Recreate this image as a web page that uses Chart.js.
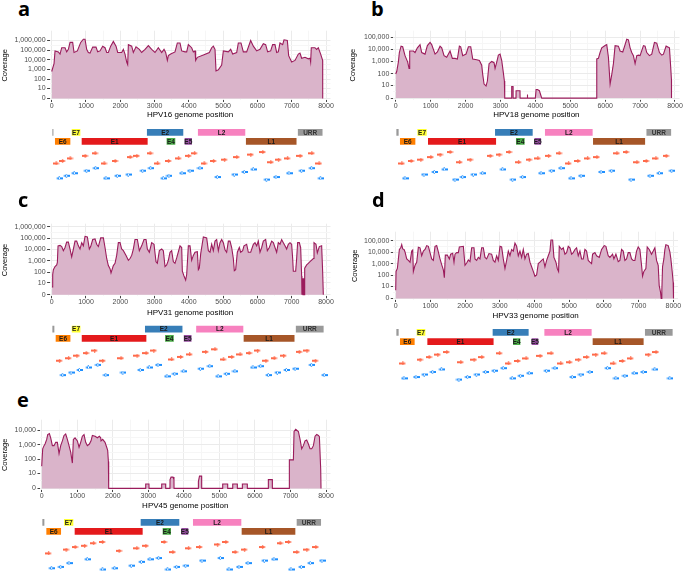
<!DOCTYPE html>
<html>
<head>
<meta charset="utf-8">
<script src="https://cdn.jsdelivr.net/npm/chart.js@4.4.0/dist/chart.umd.min.js"></script>
<style>
  html, body { margin: 0; padding: 0; background: #fff; }
  #fig { position: relative; width: 685px; height: 577px; overflow: hidden; }
  #fig canvas { position: absolute; }
  .tag { position: absolute; font: bold 20px 'Open Sans', sans-serif; line-height: 20px; color: #000; }
</style>
</head>
<body>
<div id="fig"></div>
<script>
// ---- coverage profiles (genome position, read depth) ----
const hpv16Pos = [0,68,97,194,243,292,389,437,486,535,612,651,748,846,923,972,1020,1069,1118,1196,1293,1341,1409,1487,1555,1604,1652,1720,1798,1876,1925,2041,2090,2138,2187,2216,2236,2333,2381,2459,2556,2624,2722,2819,2916,3013,3110,3208,3276,3324,3373,3402,3470,3596,3664,3742,3791,3888,3937,3985,4082,4131,4180,4199,4248,4423,4598,4666,4714,4763,4792,4860,4957,5006,5152,5220,5278,5395,5443,5521,5589,5686,5803,5881,5978,6075,6172,6240,6298,6386,6444,6512,6561,6609,6658,6736,6775,6872,6911,6998,7096,7193,7241,7290,7387,7484,7533,7552,7571,7678,7727,7776,7844,7902,7904];
const hpv16Cov = [610,4000,83000,66000,39000,178000,178000,66000,120000,630000,630000,57000,83000,630000,1350000,1350000,120000,57000,49000,205000,205000,66000,83000,257000,178000,57000,57000,257000,790000,257000,57000,57000,120000,39000,5900,3200,370000,257000,57000,220000,120000,57000,120000,300000,120000,57000,178000,57000,120000,57000,8600,27000,39000,66000,550000,550000,83000,66000,66000,370000,178000,66000,83000,8600,18000,31000,57000,178000,257000,120000,710,890,2800,83000,66000,120000,39000,57000,550000,550000,66000,66000,1000000,257000,83000,120000,470000,370000,66000,83000,370000,370000,57000,66000,550000,370000,1170000,1000000,27000,5900,8600,39000,49000,14500,18000,12600,14500,5900,178000,178000,120000,178000,39000,8600,0];

const hpv18Pos = [0,29,76,105,153,200,267,344,382,401,506,554,621,697,745,840,907,984,1031,1127,1194,1270,1318,1385,1461,1557,1623,1700,1767,1824,1862,1920,2015,2082,2149,2206,2321,2397,2464,2493,2531,2588,2626,2674,2750,2817,2846,2894,2941,2989,3037,3085,3113,3123,3320,3323,3360,3363,3445,3448,3560,3563,3765,3772,3778,4000,4021,4060,4116,4183,5750,5759,5806,5854,5902,5997,6045,6093,6141,6188,6236,6284,6379,6427,6504,6570,6618,6666,6714,6761,6809,6857,6905,6952,7000,7096,7143,7191,7268,7334,7411,7478,7554,7621,7669,7745,7841,7879,7898,7900];
const hpv18Cov = [92,150,890,5400,18000,16000,3000,890,270,7200,7200,5400,13000,24000,5400,4000,20000,36000,24000,4000,6000,18000,13000,3000,2200,7200,1800,1800,1600,18000,16000,3000,4000,16000,16000,1600,1400,1200,490,82,13,9,24,660,1000,790,270,890,3300,4000,1200,110,24,0,0,8,8,0,0,3,3,0,0,1,0,0,4,4,3,0,0,1600,1800,5400,13000,20000,24000,2200,13,82,660,20000,18000,7200,6000,24000,66000,59000,13000,5400,3000,660,3000,3300,3000,20000,18000,5400,3000,4000,36000,32000,5400,3300,4000,18000,13000,270,33,0];

const hpv31Pos = [10,29,49,97,146,165,185,243,292,340,389,437,486,535,583,632,680,729,778,826,875,923,972,1040,1098,1137,1196,1264,1312,1361,1429,1507,1555,1604,1652,1701,1730,1798,1847,1895,1944,1993,2041,2090,2168,2236,2284,2333,2381,2430,2498,2556,2624,2692,2751,2790,2848,2916,2984,3042,3081,3140,3208,3256,3305,3353,3402,3451,3499,3548,3596,3645,3742,3791,3810,3859,3907,3937,3985,4034,4082,4131,4180,4248,4277,4306,4345,4423,4520,4569,4617,4666,4714,4763,4811,4860,4909,4957,5006,5054,5103,5152,5200,5249,5297,5326,5365,5414,5472,5511,5570,5608,5686,5735,5803,5881,5929,5978,6026,6075,6124,6172,6240,6289,6347,6415,6464,6512,6561,6609,6658,6707,6755,6804,6852,6901,6950,6998,7028,7047,7115,7144,7173,7222,7261,7290,7298,7306,7314,7322,7330,7338,7346,7354,7362,7370,7378,7387,7436,7484,7533,7630,7650,7708,7747,7805,7873,7902,7922];
const hpv31Cov = [4,61,160,310,430,720,21000,23000,18000,7900,15000,45000,45000,11000,2200,11000,55000,55000,21000,11000,40000,21000,145000,126000,11000,18000,76000,86000,29000,18000,105000,105000,15000,1600,380,200,85,380,600,3000,40000,40000,11000,7900,3000,1100,1600,3000,11000,76000,76000,7900,21000,76000,76000,11000,5700,40000,29000,830,600,7900,11000,7900,310,430,1100,5700,7900,830,600,1800,21000,15000,120,45,19,61,21000,21000,1100,3000,5700,6500,160,225,4100,126000,105000,7900,5700,29000,7900,55000,76000,7900,40000,76000,40000,9600,5700,55000,55000,15000,1600,130,160,5700,15000,5700,7900,21000,29000,5700,5700,29000,40000,21000,55000,5700,15000,55000,76000,7900,15000,55000,40000,15000,5700,40000,29000,76000,40000,21000,11000,29000,40000,29000,1600,120,120,1600,40000,40000,15000,45,0,28,0,28,0,28,0,28,0,28,0,225,430,600,830,1600,40000,29000,5000,18000,21000,120,0];

const hpv33Pos = [0,10,48,77,106,144,173,202,240,269,317,365,413,461,490,509,557,605,653,701,749,797,845,893,941,989,1037,1085,1133,1181,1229,1277,1325,1373,1402,1430,1488,1546,1584,1642,1680,1709,1757,1805,1834,1949,1997,2045,2093,2141,2189,2256,2285,2333,2381,2429,2477,2525,2573,2621,2688,2765,2813,2861,2909,2957,3005,3053,3101,3149,3197,3245,3293,3341,3389,3437,3485,3533,3581,3629,3677,3725,3773,3821,3869,3917,3965,4013,4061,4109,4157,4205,4253,4301,4349,4397,4445,4474,4522,4560,4618,4656,4694,4714,4781,4829,4877,4925,4973,5021,5069,5117,5165,5213,5261,5309,5357,5405,5453,5501,5549,5597,5645,5674,5741,5789,5866,5933,6010,6058,6125,6173,6250,6288,6346,6413,6461,6509,6557,6605,6653,6701,6749,6797,6845,6893,6941,6989,7037,7085,7114,7152,7210,7248,7306,7373,7421,7469,7517,7565,7594,7632,7651,7670,7690,7728,7757,7786,7853,7901,7930,7968,7997,8006];
const hpv33Cov = [4,220,400,2700,18000,25000,47000,20000,18000,11000,2700,2000,1400,13000,16000,220,760,1400,28000,25000,5100,13000,18000,39000,34000,9600,2700,2000,34000,39000,11000,2700,870,300,61,5800,5800,2700,7000,8500,1400,7000,9600,9600,30000,34000,760,1200,2200,1600,25000,25000,2700,2000,3700,2700,25000,25000,3700,2700,7900,7000,2000,1400,5100,2000,34000,30000,2700,400,2000,13000,5100,18000,13000,64000,34000,5100,13000,3700,18000,2700,7000,7900,1400,560,220,83,110,1050,1400,2000,2700,560,2000,5100,13000,120000,120000,3700,1400,400,220,34000,18000,25000,7000,9600,34000,25000,7000,9600,18000,25000,5100,13000,2700,2700,18000,13000,2000,1400,1050,7000,9600,5100,3700,18000,39000,34000,5100,3700,7000,2700,7000,1600,2000,18000,13000,2000,2700,9600,9600,2700,2000,2000,13000,30000,18000,760,83,220,400,30000,18000,7000,13000,25000,2000,760,12,2.5,0,4,560,2700,18000,47000,39000,11000,2700,220,23,0];

const hpv45Pos = [0,28,66,94,141,169,216,253,300,347,394,441,488,535,582,628,675,722,769,816,863,891,938,1004,1051,1097,1144,1191,1238,1285,1341,1388,1426,1501,1566,1623,1660,1670,1717,1782,1829,1857,1876,1885,2925,2927,3018,3020,3375,3377,3487,3489,3609,3611,3640,3695,3722,3724,4407,4409,4440,4500,4502,5091,5093,5232,5234,5373,5375,5504,5506,5645,5647,5785,5787,6376,6378,6489,6491,6967,6969,7082,7101,7148,7223,7270,7316,7363,7410,7457,7504,7551,7598,7645,7692,7739,7786,7814,7851,7860];
const hpv45Cov = [33,540,890,1150,2400,5200,6000,3100,890,890,1500,1500,250,890,1900,4500,5700,2400,890,320,55,2400,3100,1900,690,1500,4000,5200,1500,890,1150,1900,4500,4000,3100,4000,3100,1900,2400,1500,690,420,72,0,0,1,1,0,0,1,1,0,0,3,5,5,3,0,0,2,6,6,0,0,1,1,0,0,1,1,0,0,1,1,0,0,3,3,0,0,92,92,8500,12000,8500,2400,540,890,1900,2200,1150,540,540,890,4000,5200,4500,3700,20,0];

// ---- axis ticks ----
const posTicks = [0, 1000, 2000, 3000, 4000, 5000, 6000, 7000, 8000];
const covTicks1M = [0, 10, 100, 1000, 10000, 100000, 1000000];
const covTicks100k = [0, 10, 100, 1000, 10000, 100000];
const covTicks10k = [0, 10, 100, 1000, 10000];

// ---- genome annotation ----
const geneNames = ['', 'E6', 'E7', 'E1', 'E2', 'E4', 'E5', 'L2', 'L1', 'URR'];
const geneRows = [1, 2, 1, 2, 1, 2, 2, 1, 2, 1];
const hpv16GeneStart = [0, 76, 563, 855, 2758, 3332, 3857, 4245, 5645, 7160];
const hpv16GeneEnd = [70, 563, 855, 2818, 3857, 3624, 4110, 5665, 7160, 7918];
const hpv18GeneStart = [0, 103, 602, 906, 2826, 3426, 3954, 4256, 5633, 7163];
const hpv18GeneEnd = [103, 582, 906, 2894, 3943, 3713, 4183, 5660, 7163, 7908];
const hpv31GeneStart = [0, 97, 565, 857, 2701, 3287, 3833, 4194, 5579, 7101];
const hpv31GeneEnd = [97, 565, 857, 2780, 3833, 3580, 4097, 5608, 7101, 7950];
const hpv33GeneStart = [0, 104, 585, 893, 2775, 3362, 3898, 4265, 5657, 7164];
const hpv33GeneEnd = [104, 565, 873, 2840, 3850, 3612, 4128, 5666, 7164, 8000];
const hpv45GeneStart = [0, 112, 609, 909, 2766, 3385, 3911, 4238, 5608, 7156];
const hpv45GeneEnd = [94, 563, 909, 2860, 3891, 3657, 4144, 5636, 7156, 7879];

// ---- primers (position, stagger tier) ----
const hpv16FwdPos = [126,311,535,972,1264,1526,1847,2284,2479,2867,3081,3402,3694,3985,4160,4442,4714,5035,5395,5803,6153,6386,6610,6872,7241,7582,7795];
const hpv16FwdTier = [0,2,4,6,8,0,2,5,6,8,0,2,4,6,8,0,2,3,5,7,9,1,3,4,6,8,0];
const hpv16RevPos = [224,437,661,1021,1283,1584,1915,2236,2654,2887,3256,3421,3801,4034,4325,4831,5327,5618,5881,6269,6542,6921,7290,7582,7844];
const hpv16RevTier = [1,3,5,7,9,1,3,4,7,9,1,3,5,7,9,2,4,6,8,0,2,5,7,9,1];

const hpv18FwdPos = [172,439,716,1003,1270,1557,1824,2130,2703,2961,3247,3514,3820,4068,4374,4680,4947,5214,5491,5759,6332,6599,6905,7172,7449,7745];
const hpv18FwdTier = [0,2,3,5,7,9,1,3,6,7,9,1,3,4,6,8,0,2,4,5,8,9,1,2,4,6];
const hpv18RevPos = [267,812,1108,1394,1700,1920,2225,2493,3066,3352,3639,4164,4469,4737,5023,5310,5883,6188,6742,7287,7554,7907];
const hpv18RevTier = [1,4,6,8,0,2,4,5,8,0,2,5,7,9,1,3,6,7,0,3,5,7];

const hpv31FwdPos = [223,487,731,1004,1248,1482,2018,2487,2750,2974,3491,3755,4018,4486,4759,5003,5247,5491,5755,5999,6243,6486,6760,7218,7442,7686];
const hpv31FwdTier = [0,2,4,6,8,0,2,4,6,8,1,3,5,7,9,1,3,5,6,8,0,2,4,7,8,0];
const hpv31RevPos = [321,565,809,1072,1345,1579,2076,2583,2847,3101,3364,3589,3852,4340,4613,4857,5101,5345,5872,6096,6320,6584,6847,7101,7579,7949];
const hpv31RevTier = [1,3,5,7,9,1,3,5,7,9,0,2,4,6,8,0,2,4,7,8,1,3,5,6,9,1];

const hpv33FwdPos = [202,701,960,1210,1469,1872,2256,2477,2986,3245,3514,3754,4157,4474,4752,5002,5261,5501,5760,6010,6269,6528,6768,7277,7498];
const hpv33FwdTier = [0,3,5,7,9,1,3,5,8,0,2,4,6,8,0,1,3,5,7,8,0,2,4,7,9];
const hpv33RevPos = [240,586,826,1066,1325,1824,2074,2333,2592,2842,3101,3360,3600,3850,4349,4589,5088,5338,5597,6106,6346,6605,6874,7133,7469,7901];
const hpv33RevTier = [1,2,4,6,8,0,2,4,6,7,9,1,3,5,7,9,2,4,6,9,1,3,5,6,8,1];

const hpv45FwdPos = [188,685,938,1201,1454,1707,2176,2673,2927,3442,3686,4127,4437,4943,5178,5440,5703,6210,6707,6941,7176,7457,7710];
const hpv45FwdTier = [0,3,5,6,8,9,2,4,6,9,1,4,5,7,9,1,3,5,8,9,1,3,5];
const hpv45RevPos = [281,535,769,1285,1717,2054,2523,2805,3049,3292,3546,3799,4052,4512,5028,5272,5553,5806,6266,6538,7016,7307,7560,7889];
const hpv45RevTier = [1,2,5,8,0,1,3,6,8,9,0,2,3,7,9,0,2,5,7,8,0,2,5,7];

// ---- styling ----
const FONT = "'Liberation Sans', Arial, sans-serif";
const TIER_PX = 1.5;
const LINE_COLOR = '#9b1c5c';
const FILL_COLOR = '#dab4ca';
const GENE_COLORS = {
  '': '#999999', E6: '#FF7F00', E7: '#FFFF33', E1: '#E41A1C', E2: '#377EB8',
  E4: '#4DAF4A', E5: '#984EA3', L2: '#F781BF', L1: '#A65628', URR: '#999999'
};

const panels = [
  { tag: 'a', name: 'HPV16', pos: hpv16Pos, cov: hpv16Cov, ticks: covTicks1M,
    gStart: hpv16GeneStart, gEnd: hpv16GeneEnd,
    fwdPos: hpv16FwdPos, fwdTier: hpv16FwdTier, revPos: hpv16RevPos, revTier: hpv16RevTier,
    geo: { left: 0, width: 340, plotL: 49.6, plotR: 330.5, plotT: 27, plotB: 100, titleY: 115,
           x0: 51.7, x8000: 326, y0: 98.3, yTop: 37.3, yTitlePad: 0.5,
           row1: 128.3, row2: 139, red0: 165, blue0: 184, tagX: 18, tagY: -1 } },
  { tag: 'b', name: 'HPV18', pos: hpv18Pos, cov: hpv18Cov, ticks: covTicks100k,
    gStart: hpv18GeneStart, gEnd: hpv18GeneEnd,
    fwdPos: hpv18FwdPos, fwdTier: hpv18FwdTier, revPos: hpv18RevPos, revTier: hpv18RevTier,
    geo: { left: 340, width: 345, plotL: 393.3, plotR: 679.5, plotT: 27, plotB: 99.7, titleY: 115,
           x0: 395.7, x8000: 675, y0: 98, yTop: 33.7, yTitlePad: 8.8,
           row1: 128.3, row2: 139, red0: 165, blue0: 184, tagX: 371, tagY: -1 } },
  { tag: 'c', name: 'HPV31', pos: hpv31Pos, cov: hpv31Cov, ticks: covTicks1M,
    gStart: hpv31GeneStart, gEnd: hpv31GeneEnd,
    fwdPos: hpv31FwdPos, fwdTier: hpv31FwdTier, revPos: hpv31RevPos, revTier: hpv31RevTier,
    geo: { left: 0, width: 340, plotL: 49.6, plotR: 330.5, plotT: 220, plotB: 296.3, titleY: 312.3,
           x0: 51.7, x8000: 326, y0: 294.7, yTop: 223.3, yTitlePad: 0.5,
           row1: 325, row2: 336, red0: 362.3, blue0: 380.7, tagX: 18, tagY: 190 } },
  { tag: 'd', name: 'HPV33', pos: hpv33Pos, cov: hpv33Cov, ticks: covTicks100k,
    gStart: hpv33GeneStart, gEnd: hpv33GeneEnd,
    fwdPos: hpv33FwdPos, fwdTier: hpv33FwdTier, revPos: hpv33RevPos, revTier: hpv33RevTier,
    geo: { left: 340, width: 345, plotL: 393.3, plotR: 678, plotT: 228, plotB: 300, titleY: 315.7,
           x0: 395.7, x8000: 673.3, y0: 298.3, yTop: 237.7, yTitlePad: 10.5,
           row1: 328.3, row2: 339.3, red0: 365, blue0: 384, tagX: 372, tagY: 190 } },
  { tag: 'e', name: 'HPV45', pos: hpv45Pos, cov: hpv45Cov, ticks: covTicks10k,
    gStart: hpv45GeneStart, gEnd: hpv45GeneEnd,
    fwdPos: hpv45FwdPos, fwdTier: hpv45FwdTier, revPos: hpv45RevPos, revTier: hpv45RevTier,
    geo: { left: 0, width: 340, plotL: 40, plotR: 330.5, plotT: 416, plotB: 490, titleY: 505.7,
           x0: 41.7, x8000: 326, y0: 488.3, yTop: 427.3, yTitlePad: 0.5,
           row1: 518.3, row2: 529, red0: 555, blue0: 574, tagX: 17, tagY: 390 } }
];

const fig = document.getElementById('fig');

function addCanvas(left, top, w, h) {
  const c = document.createElement('canvas');
  c.width = w; c.height = h;
  c.style.left = left + 'px'; c.style.top = top + 'px';
  c.style.width = w + 'px'; c.style.height = h + 'px';
  fig.appendChild(c);
  return c;
}

// small primer arrow used as a point style
function arrowImage(color, dir) {
  const c = document.createElement('canvas');
  c.width = 7; c.height = 4;
  const g = c.getContext('2d');
  g.fillStyle = color;
  g.beginPath();
  if (dir > 0) {
    g.rect(0, 1, 4, 2);
    g.moveTo(3, 0); g.lineTo(7, 2); g.lineTo(3, 4);
  } else {
    g.rect(3, 1, 4, 2);
    g.moveTo(4, 0); g.lineTo(0, 2); g.lineTo(4, 4);
  }
  g.closePath();
  g.fill();
  return c;
}
const fwdArrow = arrowImage('#FF6A4A', 1);
const revArrow = arrowImage('#1E8FFF', -1);

function xRange(g) {
  const pxPerBp = (g.x8000 - g.x0) / 8000;
  return { min: (g.plotL - g.x0) / pxPerBp, max: (g.plotR - g.x0) / pxPerBp };
}

function xTickObjects() {
  const out = [];
  posTicks.forEach((t, i) => {
    out.push({ value: t, lbl: String(t) });
    if (i < posTicks.length - 1) out.push({ value: (t + posTicks[i + 1]) / 2, lbl: '' });
  });
  return out;
}

function yTickObjects(ticks) {
  const out = [];
  ticks.forEach((t, i) => {
    const v = Math.log10(t + 1);
    out.push({ value: v, lbl: t.toLocaleString('en-US') });
    if (i < ticks.length - 1) out.push({ value: (v + Math.log10(ticks[i + 1] + 1)) / 2, lbl: '' });
  });
  return out;
}

const isMajor = (c) => c.tick && c.tick.lbl !== '';

function coverageChart(p) {
  const g = p.geo;
  const top = Math.floor(g.plotT) - 2;
  const bottom = Math.ceil(g.titleY + 4.8);
  const h = bottom - top;
  const canvas = addCanvas(g.left, top, g.width, h);
  const xr = xRange(g);
  const topDec = Math.log10(p.ticks[p.ticks.length - 1] + 1);
  const pxPerDec = (g.y0 - g.yTop) / topDec;

  new Chart(canvas, {
    type: 'line',
    data: {
      datasets: [{
        data: p.pos.map((x, i) => ({ x, y: Math.log10(p.cov[i] + 1) })),
        borderColor: LINE_COLOR,
        backgroundColor: FILL_COLOR,
        borderWidth: 1.1,
        fill: 'origin',
        pointRadius: 0,
        tension: 0
      }]
    },
    options: {
      responsive: false,
      animation: false,
      devicePixelRatio: 1,
      layout: { padding: { left: 0, right: g.left + g.width - g.plotR, top: g.plotT - top, bottom: 0 } },
      plugins: { legend: { display: false }, tooltip: { enabled: false } },
      scales: {
        x: {
          type: 'linear', min: xr.min, max: xr.max,
          afterBuildTicks: (s) => { s.ticks = xTickObjects(); },
          afterFit: (s) => { s.height = bottom - g.plotB; },
          ticks: { autoSkip: false, maxRotation: 0, padding: 0, color: '#4d4d4d',
                   font: { family: FONT, size: 7 }, callback: (v, i, t) => t[i].lbl },
          grid: { color: (c) => isMajor(c) ? '#ebebeb' : '#f6f6f6',
                  tickColor: (c) => isMajor(c) ? '#444' : 'rgba(0,0,0,0)', tickLength: 2, lineWidth: 1 },
          border: { display: false },
          title: { display: true, text: p.name + ' genome position', color: '#000',
                   font: { family: FONT, size: 8 }, padding: 0 }
        },
        y: {
          type: 'linear',
          min: (g.y0 - g.plotB) / pxPerDec, max: (g.y0 - g.plotT) / pxPerDec,
          afterBuildTicks: (s) => { s.ticks = yTickObjects(p.ticks); },
          afterFit: (s) => { s.width = g.plotL - g.left; },
          ticks: { autoSkip: false, padding: 1.5, color: '#4d4d4d',
                   font: { family: FONT, size: 7 }, callback: (v, i, t) => t[i].lbl },
          grid: { color: (c) => isMajor(c) ? '#ebebeb' : '#f6f6f6',
                  tickColor: (c) => isMajor(c) ? '#444' : 'rgba(0,0,0,0)', tickLength: 2.5, lineWidth: 1 },
          border: { display: false },
          title: { display: true, text: 'Coverage', color: '#000',
                   font: { family: FONT, size: 7.5 }, padding: { top: g.yTitlePad, bottom: 0 } }
        }
      }
    }
  });
}

const geneLabelPlugin = {
  id: 'geneLabels',
  afterDatasetsDraw(chart) {
    const meta = chart.getDatasetMeta(0);
    const ctx = chart.ctx;
    ctx.save();
    ctx.font = 'bold 6.5px ' + FONT;
    ctx.textAlign = 'center';
    ctx.textBaseline = 'middle';
    meta.data.forEach((bar, i) => {
      const name = geneNames[i];
      if (!name) return;
      const c = bar.getCenterPoint();
      ctx.fillStyle = name === 'URR' ? '#333' : '#1a1a1a';
      ctx.fillText(name, c.x, c.y + 0.5);
    });
    ctx.restore();
  }
};

function geneChart(p) {
  const g = p.geo;
  const top = Math.floor(g.row1 - 6);
  const bottom = Math.min(577, Math.ceil(g.blue0 + 4));
  const h = bottom - top;
  const canvas = addCanvas(g.left, top, g.width, h);
  const xr = xRange(g);

  new Chart(canvas, {
    type: 'scatter',
    data: {
      datasets: [
        {
          type: 'bar', indexAxis: 'y',
          data: geneNames.map((n, i) => ({ x: [p.gStart[i], p.gEnd[i]], y: (geneRows[i] === 1 ? g.row1 : g.row2) - top })),
          backgroundColor: geneNames.map((n) => GENE_COLORS[n]),
          borderColor: 'rgba(255,255,255,0.35)',
          borderWidth: 1,
          borderSkipped: false,
          barThickness: 8
        },
        {
          type: 'scatter',
          data: p.fwdPos.map((x, i) => ({ x, y: g.red0 - top - p.fwdTier[i] * TIER_PX })),
          pointStyle: fwdArrow, pointRadius: 3
        },
        {
          type: 'scatter',
          data: p.revPos.map((x, i) => ({ x, y: g.blue0 - top - p.revTier[i] * TIER_PX })),
          pointStyle: revArrow, pointRadius: 3
        }
      ]
    },
    options: {
      responsive: false,
      animation: false,
      devicePixelRatio: 1,
      layout: { padding: { left: g.plotL - g.left, right: g.left + g.width - g.plotR, top: 0, bottom: 0 } },
      plugins: { legend: { display: false }, tooltip: { enabled: false } },
      scales: {
        x: { type: 'linear', display: false, min: xr.min, max: xr.max, offset: false },
        y: { type: 'linear', display: false, min: 0, max: h, reverse: true, offset: false, grid: { offset: false } }
      }
    },
    plugins: [geneLabelPlugin]
  });
}

panels.forEach((p) => {
  coverageChart(p);
  geneChart(p);
  const tag = document.createElement('div');
  tag.className = 'tag';
  tag.textContent = p.tag;
  tag.style.left = p.geo.tagX + 'px';
  tag.style.top = p.geo.tagY + 'px';
  fig.appendChild(tag);
});
</script>
</body>
</html>
